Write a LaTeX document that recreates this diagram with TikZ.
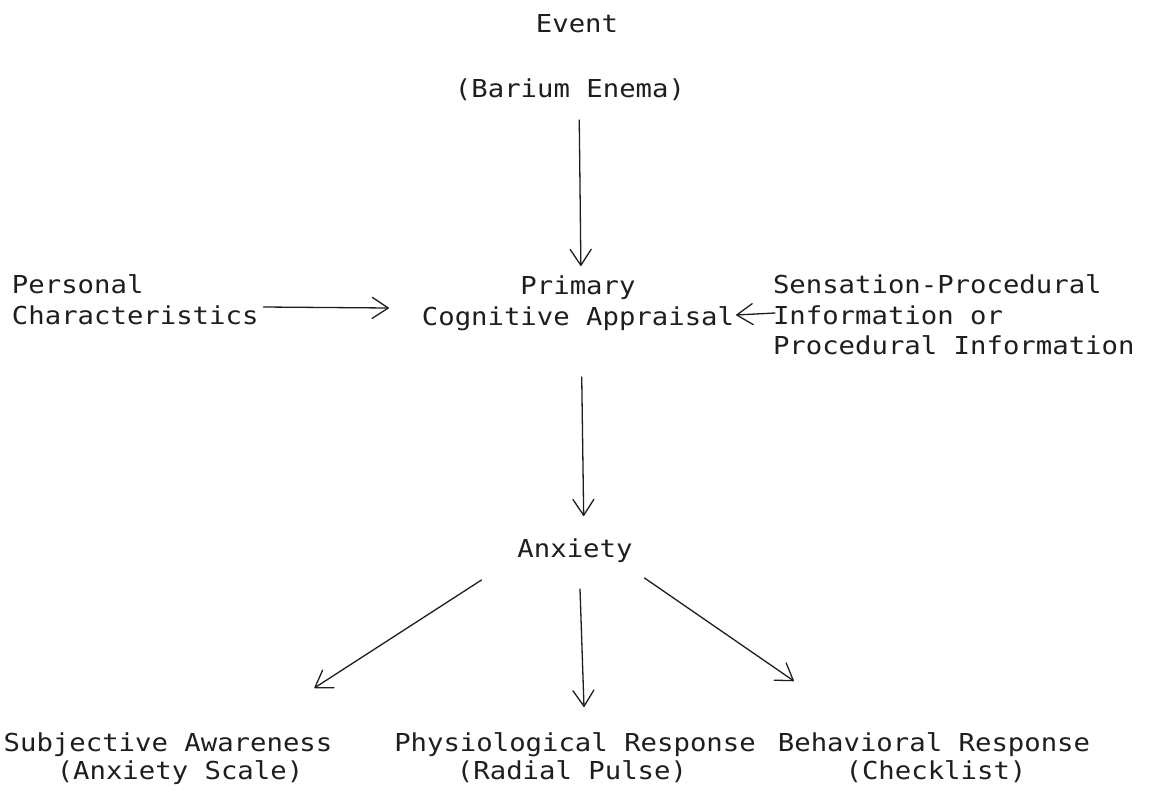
\documentclass[tikz,border=0pt]{standalone}
\usepackage{fontspec}
\newfontfamily\tw[FakeStretch=1.105]{DejaVu Sans Mono}
\usetikzlibrary{arrows.meta}
\definecolor{ink}{HTML}{1E1E1E}
\begin{document}
\begin{tikzpicture}[x=1pt,y=-1pt,
  lbl/.style={inner sep=0pt, outer sep=0pt, text height=18pt, text depth=0pt,
    font={\tw\fontsize{24.7}{30}\selectfont}, text=ink},
  arr/.style={draw=ink, line width=1.3pt, line cap=round,
    -{Straight Barb[length=16pt,width=21pt,line width=1.3pt,round]}}]
\useasboundingbox[fill=white] (0,0) rectangle (1152,793);

% top
\node[lbl, anchor=base] (event) at (577,32) {Event};
\node[lbl, anchor=base] (barium) at (570,97) {(Barium Enema)};

% middle row
\node[lbl, anchor=base] (primary) at (578,294) {Primary};
\node[lbl, anchor=base] (cognitive) at (578,325) {Cognitive Appraisal};

\node[lbl, anchor=base west] (personal) at (12,293) {Personal};
\node[lbl, anchor=base west] (characteristics) at (12,324) {Characteristics};

\node[lbl, anchor=base west] (sensation) at (773,293) {Sensation-Procedural};
\node[lbl, anchor=base west] (information) at (773,324) {Information or};
\node[lbl, anchor=base west] (procedural) at (773,354) {Procedural Information};

% anxiety
\node[lbl, anchor=base] (anxiety) at (575,557) {Anxiety};

% bottom row
\node[lbl, anchor=base] (subjective) at (168,751) {Subjective Awareness};
\node[lbl, anchor=base] (scale) at (180,779) {(Anxiety Scale)};
\node[lbl, anchor=base] (physiological) at (575,751) {Physiological Response};
\node[lbl, anchor=base] (pulse) at (572,779) {(Radial Pulse)};
\node[lbl, anchor=base] (behavioral) at (934,751) {Behavioral Response};
\node[lbl, anchor=base] (checklist) at (936,779) {(Checklist)};

% connectors
\draw[arr, shorten <=23pt, shorten >=10pt]
  ([xshift=1pt]barium.south -| primary.north) -- ([xshift=3pt]primary.north);
\draw[arr, shorten <=52pt, shorten >=23pt]
  ([xshift=3pt]cognitive.south) -- ([xshift=9pt]anxiety.north);
\draw[arr] ([xshift=5pt,yshift=8pt]characteristics.east)
  -- ([xshift=-33pt,yshift=8pt]cognitive.west);
\draw[arr] ([xshift=2pt,yshift=2pt]information.west)
  -- ([xshift=2pt,yshift=1pt]cognitive.east);
\draw[arr] ([xshift=-36pt,yshift=-23pt]anxiety.south west)
  -- ([xshift=-18pt,yshift=45pt]subjective.north east);
\draw[arr] ([xshift=5pt,yshift=-32pt]anxiety.south)
  -- ([xshift=9pt,yshift=26pt]physiological.north);
\draw[arr] ([xshift=12pt,yshift=-21pt]anxiety.south east)
  -- ([xshift=16pt,yshift=52pt]behavioral.north west);
\end{tikzpicture}
\end{document}
